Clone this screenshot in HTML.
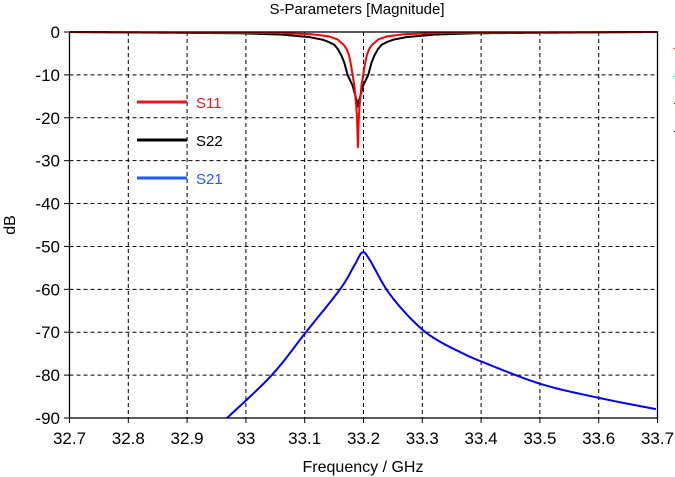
<!DOCTYPE html>
<html><head><meta charset="utf-8"><style>
body{margin:0;background:#fff;}
svg{display:block;font-family:"Liberation Sans",Arial,sans-serif;}
</style></head><body>
<svg id="s" width="675" height="477" viewBox="0 0 675 477">
<rect width="675" height="477" fill="#fff"/>
<text x="357" y="14" font-size="15" text-anchor="middle">S-Parameters [Magnitude]</text>
<g id="grid" stroke="#000" stroke-width="1" stroke-dasharray="4,3"></g>
<g id="lab" font-size="17" fill="#000"></g>
<text x="363" y="472" font-size="16" text-anchor="middle">Frequency / GHz</text>
<text transform="translate(15,225) rotate(-90)" font-size="16" text-anchor="middle">dB</text>
<path id="s21" fill="none" stroke="#0000ff" stroke-width="2"/>
<path id="s22" fill="none" stroke="#000" stroke-width="2"/>
<path id="s11" fill="none" stroke="#ff0000" stroke-width="2"/>
<rect x="69.5" y="32" width="588" height="386" fill="none" stroke="#000" stroke-width="1.3"/>
<line x1="137" y1="102" x2="187" y2="102" stroke="#f0141e" stroke-width="3"/>
<text x="196" y="108" font-size="15" fill="#f0141e">S11</text>
<line x1="137" y1="140" x2="187" y2="140" stroke="#000" stroke-width="3"/>
<text x="196" y="146" font-size="15" fill="#000">S22</text>
<line x1="137" y1="178" x2="187" y2="178" stroke="#1e5aff" stroke-width="3"/>
<text x="196" y="184" font-size="15" fill="#1e5aff">S21</text>
<rect x="674" y="48" width="1" height="1" fill="red"/>
<rect x="674" y="76" width="1" height="1" fill="#0af"/>
<rect x="674" y="103" width="1" height="1" fill="blue"/>
<rect x="674" y="131" width="1" height="1" fill="#000"/>
</svg>
<script>
const X=f=>69.5+(f-32.7)*588;const Y=d=>32-d*386/90;
const ns="http://www.w3.org/2000/svg";
const g=document.getElementById('grid'),lab=document.getElementById('lab');
function el(p,t,a){const e=document.createElementNS(ns,t);for(const k in a)e.setAttribute(k,a[k]);p.appendChild(e);return e;}
for(let i=0;i<=10;i++){const x=X(32.7+i*0.1);
 if(i>0&&i<10)el(g,'line',{x1:x,y1:32,x2:x,y2:418});
 el(document.getElementById('s'),'line',{x1:x,y1:418,x2:x,y2:423,stroke:'#000'});
 const t=el(lab,'text',{x:x,y:444,'text-anchor':'middle'});t.textContent=(32.7+i*0.1).toFixed(1).replace(/\.0$/,'');}
for(let j=0;j<=9;j++){const y=Y(-10*j);
 if(j>0&&j<9)el(g,'line',{x1:69.5,y1:y,x2:657.5,y2:y});
 el(document.getElementById('s'),'line',{x1:64,y1:y,x2:69.5,y2:y,stroke:'#000'});
 const t=el(lab,'text',{x:60,y:y+6,'text-anchor':'end'});t.textContent=j?(-10*j):'0';}
function interp(pts,x){if(x<=pts[0][0])return pts[0][1];for(let i=0;i<pts.length-1;i++){if(x<=pts[i+1][0]){const t=(x-pts[i][0])/(pts[i+1][0]-pts[i][0]);return pts[i][1]+t*(pts[i+1][1]-pts[i][1]);}}return pts[pts.length-1][1];}
function dip(pts,f0){let p='';for(let f=32.7;f<=33.7001;f+=0.0005){const d=interp(pts,Math.abs(f-f0));p+=(p?'L':'M')+X(f).toFixed(2)+','+Y(d).toFixed(2);}return p;}
const p22=[[0,-17],[0.004,-15],[0.009,-12.5],[0.0176,-10],[0.023,-7.2],[0.028,-5.5],[0.034,-4],[0.04,-3],[0.05,-2.3],[0.06,-1.8],[0.082,-1.2],[0.13,-0.6],[0.2,-0.3],[0.5,0]];
const p11=[[0,-27],[0.0015,-20],[0.003,-17],[0.006,-12.5],[0.009,-10],[0.012,-7.5],[0.015,-5.5],[0.019,-4],[0.024,-3],[0.035,-1.7],[0.05,-1],[0.08,-0.5],[0.15,-0.2],[0.5,0]];
document.getElementById('s11').setAttribute('d',dip(p11,33.1905));
document.getElementById('s22').setAttribute('d',dip(p22,33.1905));
const pts=[[32.968,-90],[33.044,-80],[33.102,-70],[33.16,-60],[33.185,-54.3],[33.198,-51.4],[33.21,-53],[33.239,-60],[33.27,-65.3],[33.302,-69.6],[33.33,-72.2],[33.364,-74.6],[33.4,-76.8],[33.5,-82],[33.6,-85.3],[33.7,-88]];
let p='';
for(let i=0;i<pts.length-1;i++){const p0=pts[Math.max(0,i-1)],p1=pts[i],p2=pts[i+1],p3=pts[Math.min(pts.length-1,i+2)];
 for(let t=0;t<=1;t+=0.05){const t2=t*t,t3=t2*t;
  const cr=(a,b,c,d)=>0.5*(2*b+(-a+c)*t+(2*a-5*b+4*c-d)*t2+(-a+3*b-3*c+d)*t3);
  let f=cr(p0[0],p1[0],p2[0],p3[0]),d=cr(p0[1],p1[1],p2[1],p3[1]);
  if(d<-90){continue;}
  p+=(p?'L':'M')+X(f).toFixed(2)+','+Y(d).toFixed(2);}}
document.getElementById('s21').setAttribute('d',p);
</script>
</body></html>
